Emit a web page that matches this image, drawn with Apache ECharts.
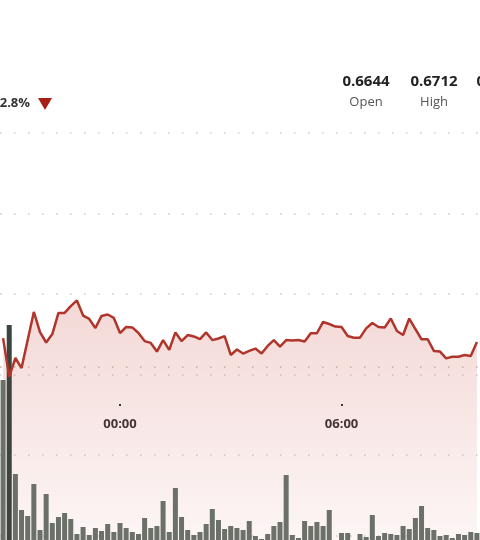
<!DOCTYPE html>
<html>
<head>
<meta charset="utf-8">
<script src="https://cdn.jsdelivr.net/npm/echarts@6/dist/echarts.min.js"></script>
<style>
  html, body { margin: 0; padding: 0; background: #fff; overflow: hidden; width: 480px; height: 540px; }
  /* chart is taller than the window: only the upper 540px is seen */
  #chart { width: 480px; height: 620px; }
</style>
</head>
<body>
<div id="chart"></div>
<script>
// 10 minute buckets
const times = [
  "20:50", "21:00", "21:10", "21:20", "21:30", "21:40", "21:50",
  "22:00", "22:10", "22:20", "22:30", "22:40", "22:50",
  "23:00", "23:10", "23:20", "23:30", "23:40", "23:50",
  "00:00", "00:10", "00:20", "00:30", "00:40", "00:50",
  "01:00", "01:10", "01:20", "01:30", "01:40", "01:50",
  "02:00", "02:10", "02:20", "02:30", "02:40", "02:50",
  "03:00", "03:10", "03:20", "03:30", "03:40", "03:50",
  "04:00", "04:10", "04:20", "04:30", "04:40", "04:50",
  "05:00", "05:10", "05:20", "05:30", "05:40", "05:50",
  "06:00", "06:10", "06:20", "06:30", "06:40", "06:50",
  "07:00", "07:10", "07:20", "07:30", "07:40", "07:50",
  "08:00", "08:10", "08:20", "08:30", "08:40", "08:50",
  "09:00", "09:10", "09:20", "09:30", "09:40"
];

const prices = [
  0.66581, 0.66388, 0.66482, 0.66432, 0.66571, 0.66711, 0.66611, 0.66559,
  0.66601, 0.66706, 0.66706, 0.66740, 0.66768, 0.66693, 0.66676, 0.66631,
  0.66691, 0.66698, 0.66681, 0.66606, 0.66636, 0.66634, 0.66606, 0.66566,
  0.66557, 0.66514, 0.66571, 0.66522, 0.66609, 0.66566, 0.66596, 0.66589,
  0.66576, 0.66609, 0.66571, 0.66579, 0.66591, 0.66497, 0.66524, 0.66504,
  0.66517, 0.66529, 0.66504, 0.66542, 0.66571, 0.66539, 0.66571, 0.66569,
  0.66571, 0.66564, 0.66605, 0.66605, 0.66661, 0.66651, 0.66638, 0.66636,
  0.66591, 0.66583, 0.66583, 0.66629, 0.66656, 0.66636, 0.66633, 0.66678,
  0.66616, 0.66596, 0.66678, 0.66626, 0.66575, 0.66575, 0.66517, 0.66514,
  0.66480, 0.66488, 0.66488, 0.66497, 0.66492, 0.66561
];

const volumes = [
  160, 215, 66, 30, 24, 56, 10, 46, 17, 23, 27, 21, 6, 13, 5, 12,
  9, 16, 8, 17, 12, 8, 6, 22, 12, 14, 39, 8, 52, 23, 10, 5,
  8, 16, 31, 20, 11, 14, 12, 10, 19, 4, 1, 6, 14, 18, 65, 5,
  2, 19, 14, 18, 14, 30, 0, 7, 7, 0, 6, 3, 25, 4, 7, 6,
  5, 14, 11, 22, 34, 12, 10, 4, 5, 2, 6, 5, 8, 7
];

const openPrice = 0.6644;
const statValues = ["0.6644", "0.6712", "0.6470"];
const statNames = ["Open", "High", "Low"];
const changeText = "-2.8%";

const font = '"Open Sans", "Noto Sans", sans-serif';
const dotted = { type: [1.5, 12.5], width: 1.5, color: '#cfcfcf' };

var myChart = echarts.init(document.getElementById('chart'));

const statX = [366, 434, 500];
const graphics = [
  {
    type: 'text', x: 30, y: 103,
    style: { text: changeText, font: 'bold 13px ' + font, fill: '#333', align: 'right', verticalAlign: 'middle', textAlign: 'right', textVerticalAlign: 'middle' }
  },
  {
    type: 'polygon',
    shape: { points: [[38, 98], [52, 98], [45, 110]] },
    style: { fill: '#a81f17' }
  }
];
statValues.forEach((v, i) => {
  graphics.push({
    type: 'text', x: statX[i], y: 82,
    style: { text: v, font: 'bold 15px ' + font, fill: '#222', align: 'center', verticalAlign: 'middle', textAlign: 'center', textVerticalAlign: 'middle' }
  });
  graphics.push({
    type: 'text', x: statX[i], y: 102,
    style: { text: statNames[i], font: '13px ' + font, fill: '#555', align: 'center', verticalAlign: 'middle', textAlign: 'center', textVerticalAlign: 'middle' }
  });
});

const showLabel = (idx) => {
  const t = times[idx];
  return t.endsWith(':00') && parseInt(t, 10) % 6 === 0;
};

myChart.setOption({
  animation: false,
  textStyle: { fontFamily: font },
  graphic: graphics,
  grid: [
    { left: -2, top: 133, width: 487.5, height: 483 },
    { left: -2, top: 300, width: 487.5, height: 240 },
    { left: -2, top: 403, width: 487.5, height: 1 }
  ],
  xAxis: [
    { type: 'category', gridIndex: 0, data: times, show: false },
    { type: 'category', gridIndex: 1, data: times, show: false },
    {
      type: 'category', gridIndex: 2, data: times,
      axisLine: { show: false },
      axisTick: { show: true, alignWithLabel: true, length: 2, interval: showLabel, lineStyle: { color: '#333', width: 2 } },
      axisLabel: { interval: showLabel, margin: 14, fontSize: 13, fontWeight: 'bold', color: '#333', fontFamily: font },
      splitLine: { show: false }
    }
  ],
  yAxis: [
    {
      type: 'value', gridIndex: 0, min: 0.652, max: 0.676, interval: 0.004,
      axisLabel: { show: false }, axisLine: { show: false }, axisTick: { show: false },
      splitLine: { show: true, lineStyle: dotted }
    },
    { type: 'value', gridIndex: 1, min: 0, max: 240, show: false },
    { type: 'value', gridIndex: 2, min: 0, max: 1, show: false }
  ],
  series: [
    {
      // area fill only
      type: 'line', xAxisIndex: 0, yAxisIndex: 0, data: prices,
      symbol: 'none', z: 1, silent: true,
      lineStyle: { width: 0 },
      areaStyle: {
        color: new echarts.graphic.LinearGradient(0, 0, 0, 1, [
          { offset: 0, color: 'rgba(196, 58, 46, 0.28)' },
          { offset: 1, color: 'rgba(196, 58, 46, 0.0)' }
        ])
      }
    },
    {
      type: 'bar', xAxisIndex: 1, yAxisIndex: 1, data: volumes,
      barWidth: 5, z: 2,
      itemStyle: {
        color: (p) => (p.dataIndex === 1 ? '#3b4540' : '#6b7069')
      }
    },
    {
      type: 'line', xAxisIndex: 0, yAxisIndex: 0, data: prices,
      symbol: 'none', z: 3,
      lineStyle: { color: '#b0352b', width: 2.5 },
      // open price reference line (precision, or it rounds to 0.66)
      markLine: {
        silent: true, symbol: ['none', 'none'], precision: 4,
        label: { show: false },
        lineStyle: { type: [1.5, 12.5], width: 1.5, color: '#c2a9a6' },
        data: [{ yAxis: openPrice }]
      }
    }
  ]
});
</script>
</body>
</html>
